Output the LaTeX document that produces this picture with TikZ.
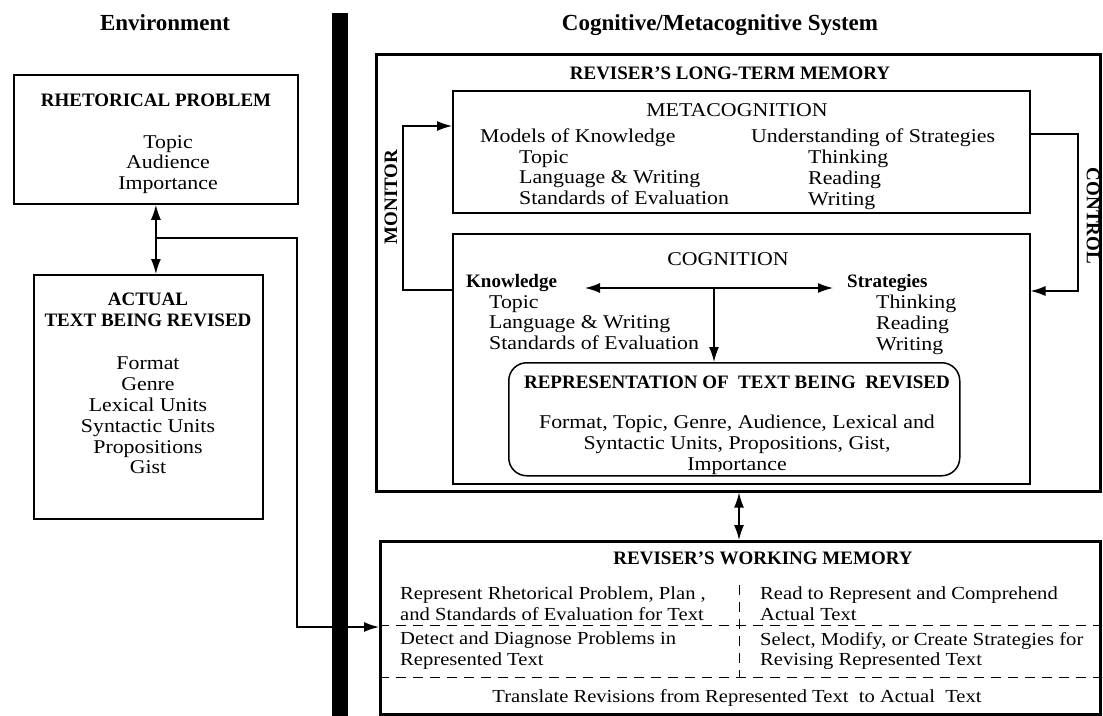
\documentclass[tikz,border=0pt]{standalone}
\usepackage{fontspec}
\setmainfont{Liberation Serif}
\newfontfamily\bodyfont{Liberation Serif}[FakeStretch=1.12]
\usetikzlibrary{arrows.meta}
\tikzstyle{block} = [rectangle, draw, line width=1.8pt, inner sep=0pt, anchor=north west]
\tikzstyle{bigblock} = [block, line width=2.6pt]
\tikzstyle{line} = [draw, line width=1.4pt, -{Latex[length=15pt,width=10pt]}]
\tikzstyle{twoway} = [line, {Latex[length=15pt,width=10pt]}-{Latex[length=15pt,width=10pt]}]
\tikzstyle{head} = [font=\fontsize{19}{20.5}\selectfont\bfseries, inner sep=0pt, align=center]
\tikzstyle{txt} = [font=\bodyfont\fontsize{19.5}{20.8}\selectfont, inner sep=0pt, align=left, anchor=north west]
\tikzstyle{ctxt} = [txt, align=center, anchor=north]
\tikzstyle{wtxt} = [txt, font=\bodyfont\fontsize{18.4}{20.5}\selectfont]
\tikzstyle{sep} = [draw, line width=1pt, dash pattern=on 10pt off 7pt]

\begin{document}
\begin{tikzpicture}[x=1pt, y=-1pt]
	\useasboundingbox (0,0) rectangle (1103,715);
	% column titles and the wall between them
	\node [head, font=\fontsize{23}{24}\selectfont\bfseries] (env) at (165,23) {Environment};
	\node [head, font=\fontsize{23}{24}\selectfont\bfseries] (cms) at (720,25) {Cognitive/Metacognitive System};
	\node [block, fill=black, draw=none, minimum width=16, minimum height=703] (wall) at (331,12) {};

	% environment
	\node [block, minimum width=284, minimum height=129] (rhet) at (13,74) {};
	\node [head] (rhettitle) at (156,100) {RHETORICAL PROBLEM};
	\node [ctxt] (rhetbody) at (168,135) {Topic\\Audience\\Importance};
	\node [block, minimum width=229, minimum height=244] (actual) at (33,274) {};
	\node [head, anchor=north] (actualtitle) at (148,293) {ACTUAL\\TEXT BEING REVISED};
	\node [ctxt] (actualbody) at (148,357) {Format\\Genre\\Lexical Units\\Syntactic Units\\Propositions\\Gist};

	% long-term memory
	\node [bigblock, minimum width=724, minimum height=437] (ltm) at (375,53) {};
	\node [head] (ltmtitle) at (730,73) {REVISER'S LONG-TERM MEMORY};
	\node [block, line width=1.5pt, minimum width=577, minimum height=122] (meta) at (452,90) {};
	\node [txt, anchor=center] (metatitle) at (737,110) {METACOGNITION};
	\node [txt, anchor=west] (models) at (480,138) {Models of Knowledge};
	\node [txt] (modelsbody) at (519,150) {Topic\\Language \& Writing\\Standards of Evaluation};
	\node [txt, anchor=west] (underst) at (751,138) {Understanding of Strategies};
	\node [txt] (understbody) at (808,150) {Thinking\\Reading\\Writing};

	\node [block, line width=1.5pt, minimum width=577, minimum height=250] (cog) at (452,233) {};
	\node [txt, anchor=center] (cogtitle) at (728,259) {COGNITION};
	\node [head, anchor=west] (know) at (466,283) {Knowledge};
	\node [txt] (knowbody) at (489,295) {Topic\\Language \& Writing\\Standards of Evaluation};
	\node [head, anchor=west] (strat) at (847,283) {Strategies};
	\node [txt] (stratbody) at (876,295) {Thinking\\Reading\\Writing};

	\node [block, line width=1.5pt, minimum width=451, minimum height=113, rounded corners=18pt] (rep) at (508,362) {};
	\node [head] (reptitle) at (737,382) {REPRESENTATION OF\ \ TEXT BEING\ \ REVISED};
	\node [ctxt] (repbody) at (737,415) {Format, Topic, Genre, Audience, Lexical and\\Syntactic Units, Propositions, Gist,\\Importance};

	\node [head, rotate=90] (monitor) at (391,197) {MONITOR};
	\node [head, rotate=-90] (control) at (1093,216) {CONTROL};

	% working memory
	\node [bigblock, minimum width=720, minimum height=173] (wm) at (379,540) {};
	\node [head] (wmtitle) at (763,558) {REVISER'S WORKING MEMORY};
	\node [wtxt] (plan) at (400,587) {Represent Rhetorical Problem, Plan ,\\and Standards of Evaluation for Text};
	\node [wtxt] (read) at (760,587) {Read to Represent\ and Comprehend\\Actual Text};
	\node [wtxt] (detect) at (400,632) {Detect and Diagnose Problems in\\Represented Text};
	\node [wtxt] (select) at (760,632) {Select, Modify, or Create Strategies for\\Revising Represented Text};
	\node [wtxt, align=center, anchor=north] (translate) at (737,689) {Translate Revisions from Represented Text\ \ to Actual\ \ Text};
	\path [sep] (wm.west |- 0,625) -- (wm.east |- 0,625);
	\path [sep] (wm.west |- 0,677) -- (wm.east |- 0,677);
	\path [sep] (739,585) -- (739,677);

	% connectors
	\coordinate (fork) at (rhet.south |- 0,238);
	\coordinate (back) at (297,627);
	\path [twoway] (rhet.south) -- (rhet.south |- actual.north);
	\path [line] (fork) -| (back) -- (back -| wm.west);

	\coordinate (mon) at (403,126);
	\coordinate (monlow) at (403,290);
	\path [line] (monlow -| cog.west) -- (monlow) -- (mon) -- (mon -| meta.west);
	\coordinate (ctl) at (1078,134);
	\coordinate (ctllow) at (1078,291);
	\path [line] (ctl -| meta.east) -- (ctl) -- (ctllow) -- (ctllow -| cog.east);

	\coordinate (split) at (714,288);
	\path [twoway] (585,288) -- (833,288);
	\path [line] (split) -- (split |- rep.north);
	\path [twoway] (ltm.south -| 739,0) -- (wm.north -| 739,0);
\end{tikzpicture}
\end{document}
